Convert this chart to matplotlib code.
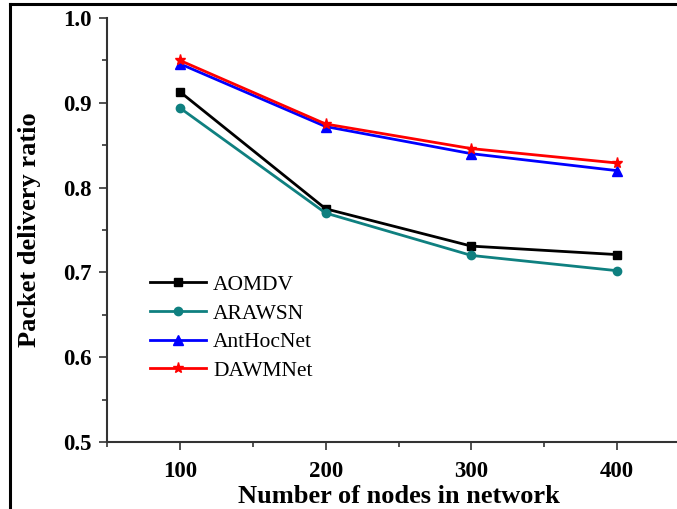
import matplotlib
matplotlib.use("Agg")
import matplotlib.pyplot as plt
from matplotlib.lines import Line2D
from matplotlib.ticker import MultipleLocator

nodes = [100, 200, 300, 400]
aomdv = [0.913, 0.775, 0.731, 0.721]
arawsn = [0.894, 0.770, 0.720, 0.702]
anthocnet = [0.946, 0.872, 0.840, 0.820]
dawmnet = [0.950, 0.875, 0.846, 0.829]
x_ticks = [100, 200, 300, 400]
y_ticks = [0.5, 0.6, 0.7, 0.8, 0.9, 1.0]

plt.rcParams['font.family'] = ['Liberation Serif', 'DejaVu Serif']

fig = plt.figure(figsize=(6.77, 5.09), dpi=100)
ax = fig.add_axes([107/677, 1-442/509, (690-107)/677, (442-18)/509])

series = [
    ("AOMDV", aomdv, "black", "s", 6),
    ("ARAWSN", arawsn, "#0f8080", "o", 6),
    ("AntHocNet", anthocnet, "#0000ff", "^", 7),
    ("DAWMNet", dawmnet, "#ff0000", "*", 8),
]
for name, vals, col, mk, ms in series:
    ax.plot(nodes, vals, color=col, marker=mk, markersize=ms, linewidth=2.0,
            label=name, clip_on=False)

ax.set_xlim(50, 450)
ax.set_ylim(0.5, 1.0)
ax.set_xticks(x_ticks)
ax.set_yticks(y_ticks)
ax.set_yticklabels([f"{v:.1f}" for v in y_ticks])
ax.xaxis.set_minor_locator(MultipleLocator(50))
ax.yaxis.set_minor_locator(MultipleLocator(0.05))
ax.tick_params(axis='both', which='major', direction='out', length=6, width=1.2,
               labelsize=16.5, color='#333333')
ax.tick_params(axis='both', which='minor', direction='out', length=3.5, width=1.2,
               color='#333333')
for lab in ax.get_xticklabels() + ax.get_yticklabels():
    lab.set_fontweight('bold')
ax.tick_params(axis='x', which='major', pad=8)
ax.tick_params(axis='y', which='major', pad=5)

for s in ['top', 'right']:
    ax.spines[s].set_visible(False)
for s in ['left', 'bottom']:
    ax.spines[s].set_linewidth(1.5)
    ax.spines[s].set_color('#333333')

ax.set_xlabel("Number of nodes in network", fontsize=19, fontweight='bold', labelpad=2)
ax.set_ylabel("Packet delivery ratio", fontsize=19, fontweight='bold', labelpad=16)

leg = ax.legend(loc='upper left', bbox_to_anchor=(0.04, 0.44), frameon=False,
                fontsize=15.5, handlelength=2.6, handletextpad=0.35, labelspacing=0.4)

# image border (cropped frame)
fig.add_artist(Line2D([10/677, 10/677], [0, 1-4/509], transform=fig.transFigure,
                      color='black', linewidth=2.2))
fig.add_artist(Line2D([10/677, 1], [1-4/509, 1-4/509], transform=fig.transFigure,
                      color='black', linewidth=2.2))

fig.savefig("out.png", dpi=100)
